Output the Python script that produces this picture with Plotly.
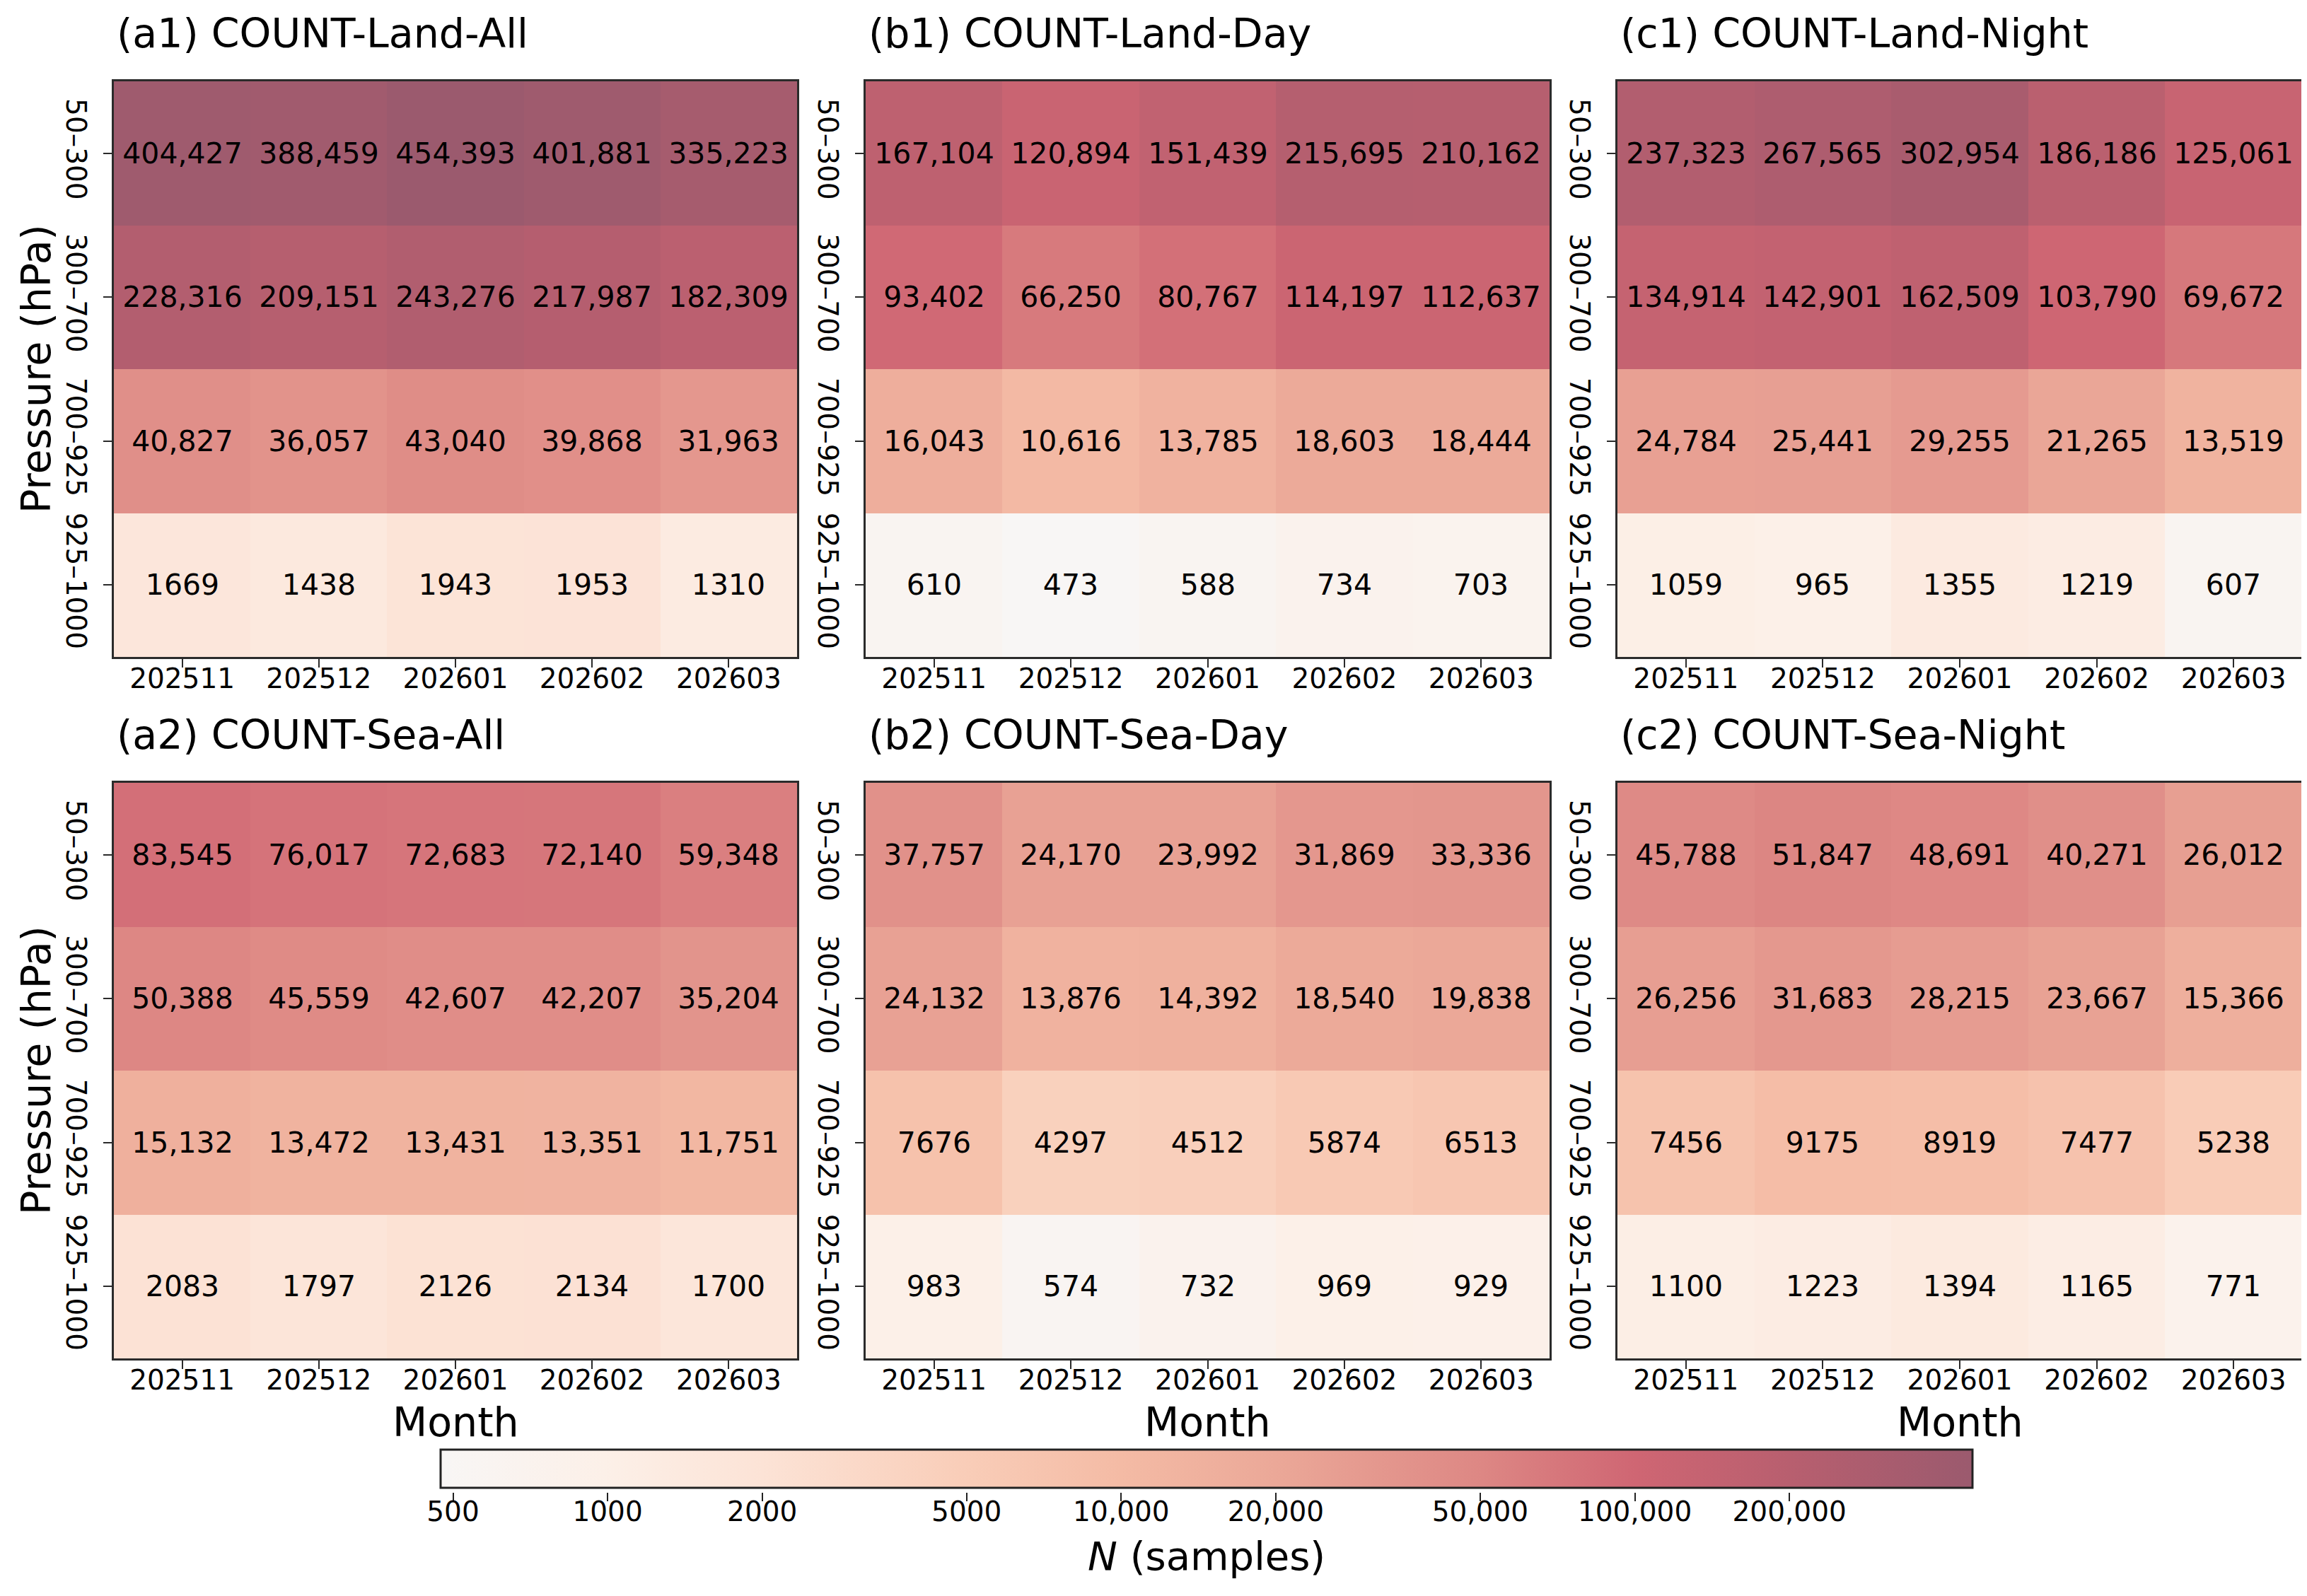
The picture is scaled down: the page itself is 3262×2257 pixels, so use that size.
import numpy as np
import plotly.graph_objects as go

W, H = 3262, 2257

months = ["202511", "202512", "202601", "202602", "202603"]
levels = ["50–300", "300–700", "700–925", "925–1000"]

# counts per panel, rows = pressure layers (top to bottom), cols = months
land_all = [[404427, 388459, 454393, 401881, 335223],
            [228316, 209151, 243276, 217987, 182309],
            [40827, 36057, 43040, 39868, 31963],
            [1669, 1438, 1943, 1953, 1310]]
land_day = [[167104, 120894, 151439, 215695, 210162],
            [93402, 66250, 80767, 114197, 112637],
            [16043, 10616, 13785, 18603, 18444],
            [610, 473, 588, 734, 703]]
land_night = [[237323, 267565, 302954, 186186, 125061],
              [134914, 142901, 162509, 103790, 69672],
              [24784, 25441, 29255, 21265, 13519],
              [1059, 965, 1355, 1219, 607]]
sea_all = [[83545, 76017, 72683, 72140, 59348],
           [50388, 45559, 42607, 42207, 35204],
           [15132, 13472, 13431, 13351, 11751],
           [2083, 1797, 2126, 2134, 1700]]
sea_day = [[37757, 24170, 23992, 31869, 33336],
           [24132, 13876, 14392, 18540, 19838],
           [7676, 4297, 4512, 5874, 6513],
           [983, 574, 732, 969, 929]]
sea_night = [[45788, 51847, 48691, 40271, 26012],
             [26256, 31683, 28215, 23667, 15366],
             [7456, 9175, 8919, 7477, 5238],
             [1100, 1223, 1394, 1165, 771]]

panel_titles = ["(a1) COUNT-Land-All", "(b1) COUNT-Land-Day", "(c1) COUNT-Land-Night",
                "(a2) COUNT-Sea-All", "(b2) COUNT-Sea-Day", "(c2) COUNT-Sea-Night"]
panels = [land_all, land_day, land_night, sea_all, sea_day, sea_night]

cbar_ticks = [500, 1000, 2000, 5000, 10000, 20000, 50000, 100000, 200000]
cbar_labels = ["500", "1000", "2000", "5000", "10,000", "20,000", "50,000", "100,000", "200,000"]

colorscale = [
    [0.00, "#f8f6f5"],
    [0.107, "#fcf0e8"],
    [0.21, "#fce3d6"],
    [0.343, "#f9cdb8"],
    [0.444, "#f4bba5"],
    [0.545, "#eba898"],
    [0.68, "#dd8784"],
    [0.78, "#cf6673"],
    [0.88, "#b85f6f"],
    [1.00, "#9b5a6e"],
]

TICK_FS = 39
CELL_FS = 41
TITLE_FS = 57


def px_x(p):
    return p / W


def px_y(p):
    return 1 - p / H


def fmt(v):
    return f"{v:,}" if v >= 10000 else str(v)


# panel boxes in pixels
col_x = [(153, 1119), (1216, 2183), (2279, 3247)]
row_y = [(107, 921), (1099, 1913)]

# colorbar box in pixels
cb_cx, cb_len = 1698, 2166
cb_top, cb_bot = 2042, 2102

allv = np.array(panels)
zmin = np.log10(allv.min())
zmax = np.log10(allv.max())

fig = go.Figure()
annotations = []
for i, (data, title) in enumerate(zip(panels, panel_titles)):
    r, c = divmod(i, 3)
    n = i + 1
    xa = "x" if n == 1 else f"x{n}"
    ya = "y" if n == 1 else f"y{n}"
    arr = np.array(data)
    fig.add_trace(go.Heatmap(
        z=np.log10(arr), x=months, y=levels,
        text=[[fmt(v) for v in row] for row in data],
        texttemplate="%{text}",
        textfont=dict(size=CELL_FS, color="black", family="DejaVu Sans"),
        coloraxis="coloraxis", xaxis=xa, yaxis=ya, hoverinfo="skip",
    ))
    x0, x1 = col_x[c]
    y0, y1 = row_y[r]
    axis_common = dict(showline=True, mirror=True, linecolor="#2b2b2b", linewidth=3,
                       ticks="outside", ticklen=12, tickwidth=2, tickcolor="#2b2b2b",
                       tickfont=dict(size=TICK_FS, color="black"), showgrid=False,
                       zeroline=False, type="category", automargin=False)
    fig.layout[f"xaxis{'' if n == 1 else n}"] = dict(
        domain=[px_x(x0), px_x(x1)], anchor=ya, ticklabelstandoff=-18, **axis_common)
    fig.layout[f"yaxis{'' if n == 1 else n}"] = dict(
        domain=[px_y(y1), px_y(y0)], anchor=xa, autorange="reversed",
        tickangle=90, ticklabelstandoff=5, **axis_common)
    annotations.append(dict(text=title, x=px_x(x0 + 2), y=px_y(y0 - 68),
                            xref="paper", yref="paper", xanchor="left", yanchor="middle",
                            showarrow=False, font=dict(size=TITLE_FS, color="black")))
    if c == 0:
        annotations.append(dict(text="Pressure (hPa)", x=px_x(43), y=px_y((y0 + y1) / 2),
                                xref="paper", yref="paper", textangle=-90,
                                xanchor="center", yanchor="middle", showarrow=False,
                                font=dict(size=TITLE_FS, color="black")))
    if r == 1:
        annotations.append(dict(text="Month", x=px_x((x0 + x1) / 2), y=px_y(2003),
                                xref="paper", yref="paper", xanchor="center", yanchor="middle",
                                showarrow=False, font=dict(size=TITLE_FS, color="black")))

annotations.append(dict(text="<i>N</i> (samples)", x=px_x(cb_cx), y=px_y(2192),
                        xref="paper", yref="paper", xanchor="center", yanchor="middle",
                        showarrow=False, font=dict(size=56, color="black")))

# helper axis under the colorbar that carries its ticks and labels
fig.add_trace(go.Scatter(x=[], y=[], xaxis="x7", yaxis="y7", showlegend=False,
                         hoverinfo="skip"))

fig.update_layout(
    width=W, height=H,
    margin=dict(l=0, r=0, t=0, b=0, autoexpand=False),
    paper_bgcolor="white", plot_bgcolor="rgba(0,0,0,0)",
    font=dict(family="DejaVu Sans", color="black"),
    annotations=annotations,
    xaxis7=dict(domain=[px_x(cb_cx - cb_len / 2), px_x(cb_cx + cb_len / 2)],
                anchor="y7", range=[zmin, zmax], tickvals=np.log10(cbar_ticks),
                ticktext=cbar_labels, ticks="outside", ticklen=12, tickwidth=2,
                tickcolor="#222222", tickfont=dict(size=TICK_FS, color="black"),
                showline=False, showgrid=False, zeroline=False, ticklabelstandoff=-19,
                automargin=False),
    yaxis7=dict(domain=[px_y(cb_bot), px_y(cb_top)], anchor="x7", range=[0, 1],
                visible=False, automargin=False),
    coloraxis=dict(
        colorscale=colorscale, cmin=zmin, cmax=zmax,
        colorbar=dict(
            orientation="h", x=px_x(cb_cx), xanchor="center",
            y=px_y(cb_top), yanchor="top",
            len=cb_len / W, lenmode="fraction",
            thickness=54, outlinewidth=3, outlinecolor="#222222",
            ticks="", showticklabels=False, xpad=0, ypad=0,
        ),
    ),
)

fig.write_html("out.html")
